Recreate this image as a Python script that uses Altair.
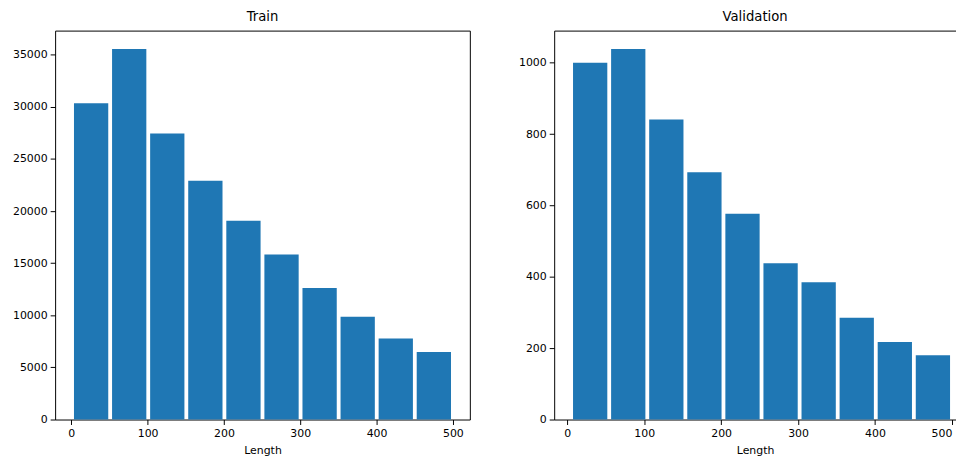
import altair as alt
import pandas as pd

# ---- data ----
train_counts = [30350, 35540, 27450, 22910, 19070, 15830, 12630, 9870, 7770, 6470]
val_counts = [1000, 1038, 841, 693, 577, 438, 385, 285, 217, 180]
train_range = [1, 500]      # min / max length (histogram range)
val_range = [5, 500]
rwidth = 0.9
x_ticks = [0, 100, 200, 300, 400, 500]
train_y_ticks = [0, 5000, 10000, 15000, 20000, 25000, 30000, 35000]
val_y_ticks = [0, 200, 400, 600, 800, 1000]

FONT = "DejaVu Sans"
BLUE = "#1f77b4"


def make_df(counts, rng):
    n = len(counts)
    w = (rng[1] - rng[0]) / n
    rows = []
    for i, c in enumerate(counts):
        lo = rng[0] + i * w
        hi = lo + w
        pad = (1 - rwidth) / 2 * w
        rows.append({"x0": lo + pad, "x1": hi - pad, "count": c, "base": 0})
    return pd.DataFrame(rows)


def margins(df):
    lo, hi = df["x0"].min(), df["x1"].max()
    m = 0.05 * (hi - lo)
    return lo - m, hi + m


train_df = make_df(train_counts, train_range)
val_df = make_df(val_counts, val_range)

tx = margins(train_df)
vx = margins(val_df)
ty = [0, max(train_counts) * 1.05]
vy = [0, max(val_counts) * 1.05]

W_LEFT = 418
W_RIGHT = 405
H = 392
# the right panel is cut at the picture edge, like the reference
vx_dom = [vx[0], vx[0] + W_RIGHT / (W_LEFT / (vx[1] - vx[0]))]

axis_common = dict(
    grid=False,
    tickColor="black",
    tickSize=5,
    tickWidth=1,
    labelColor="black",
    labelFont=FONT,
    labelFontSize=11,
    titleFont=FONT,
    titleFontSize=11,
    titleFontWeight="normal",
    titleColor="black",
    domainColor="black",
    domainWidth=1,
)


def x_axis(domain, flush):
    return alt.Axis(
        values=x_ticks, title="Length", orient="bottom", domain=domain,
        labelFlush=flush, labelPadding=3, titlePadding=6, **axis_common
    )


def y_axis(vals, domain):
    return alt.Axis(
        values=vals, title=None, domain=domain, labelPadding=3,
        format="d", **axis_common
    )


def title(text):
    return alt.TitleParams(text, font=FONT, fontSize=13.3, fontWeight="normal", color="black", offset=7)


left = (
    alt.Chart(train_df)
    .mark_bar(color=BLUE)
    .encode(
        x=alt.X("x0:Q", scale=alt.Scale(domain=list(tx), nice=False, zero=False), axis=x_axis(False, False)),
        x2="x1:Q",
        y=alt.Y("count:Q", scale=alt.Scale(domain=ty, nice=False), axis=y_axis(train_y_ticks, False)),
        y2="base:Q",
    )
    .properties(width=W_LEFT, height=H, title=title("Train"))
)

val_y = alt.Y("count:Q", scale=alt.Scale(domain=vy, nice=False), axis=y_axis(val_y_ticks, True))

right_bars = (
    alt.Chart(val_df)
    .mark_bar(color=BLUE)
    .encode(
        x=alt.X("x0:Q", scale=alt.Scale(domain=vx_dom, nice=False, zero=False), axis=x_axis(True, 10)),
        x2="x1:Q",
        y=val_y,
        y2="base:Q",
    )
)
right_top = (
    alt.Chart(val_df)
    .mark_bar(opacity=0)
    .encode(
        x=alt.X("x0:Q", scale=alt.Scale(domain=vx_dom, nice=False, zero=False),
                axis=alt.Axis(orient="top", labels=False, ticks=False, title=None, grid=False,
                              domain=True, domainColor="black", domainWidth=1)),
        x2="x1:Q",
        y=val_y,
        y2="base:Q",
    )
)
right = (
    alt.layer(right_bars, right_top)
    .resolve_axis(x="independent")
    .properties(
        width=W_RIGHT, height=H,
        view=alt.ViewBackground(stroke=None),
        title=title("Validation"),
    )
)

chart = (
    alt.hconcat(left, right, spacing=48)
    .properties(padding={"left": 3.5, "top": 0, "right": 0, "bottom": 0}, background="white")
    .configure_view(stroke="black", strokeWidth=1)
)

chart.save("out.html", embed_options={"renderer": "svg", "actions": False})
